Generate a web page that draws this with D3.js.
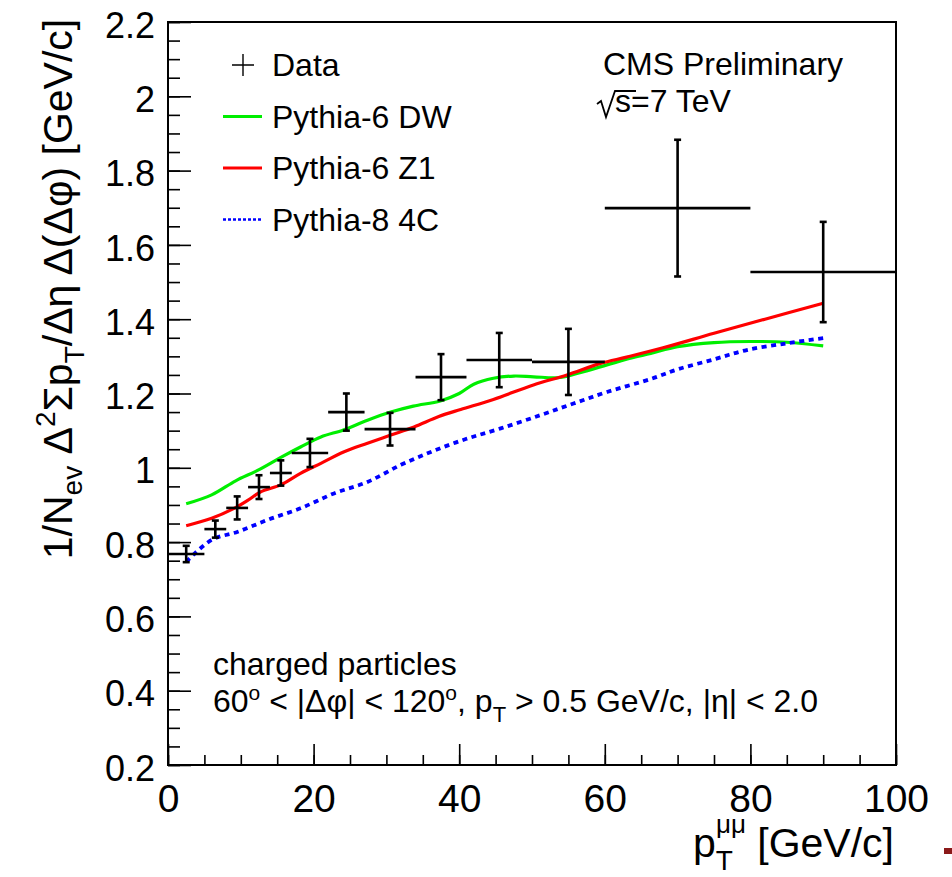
<!DOCTYPE html>
<html>
<head>
<meta charset="utf-8">
<script src="https://cdn.jsdelivr.net/npm/d3@7"></script>
<style>
  body { margin: 0; background: #fff; }
  svg { display: block; font-family: "Liberation Sans", Arial, Helvetica, sans-serif; }
</style>
</head>
<body>
<div id="container"></div>
<script>
/* CONSTANTS AND GLOBALS */
const width = 952;
const height = 877;
const margin = { top: 22, bottom: 112, left: 168, right: 56 };

/* DATA */
// data bins (pT of the dimuon pair) with measured value and stat error
const binLow  = [0, 5, 8, 11, 14, 17, 22, 27, 34, 41, 50, 60, 80];
const binHigh = [5, 8, 11, 14, 17, 22, 27, 34, 41, 50, 60, 80, 100];
const dataY   = [0.768, 0.835, 0.892, 0.948, 0.986, 1.040, 1.150, 1.104, 1.244, 1.290, 1.285, 1.699, 1.527];
const dataErr = [0.022, 0.023, 0.031, 0.032, 0.034, 0.038, 0.050, 0.044, 0.062, 0.073, 0.089, 0.184, 0.135];

// Pythia-6 DW
const dwX = [2.5, 6, 9.3, 12.3, 15.5, 18.2, 21, 24.1, 27.4, 30.6, 33.7, 37.4, 40, 42, 44.7, 47.5, 50.2, 53.9, 57.1, 60.3, 63.5, 66.3, 70, 75, 80, 85, 90];
const dwY = [0.903, 0.927, 0.965, 0.993, 1.028, 1.056, 1.083, 1.102, 1.128, 1.150, 1.166, 1.180, 1.200, 1.225, 1.241, 1.247, 1.245, 1.243, 1.259, 1.277, 1.295, 1.308, 1.326, 1.337, 1.340, 1.338, 1.328];

// Pythia-6 Z1
const z1X = [2.5, 6, 9, 11, 12.8, 15.5, 18.2, 21, 24.2, 27.4, 30.6, 33.8, 37.2, 40.2, 44.7, 50.2, 54.8, 59.4, 63, 68, 75, 82, 90];
const z1Y = [0.844, 0.864, 0.890, 0.913, 0.936, 0.954, 0.985, 1.012, 1.043, 1.066, 1.088, 1.110, 1.138, 1.157, 1.184, 1.223, 1.250, 1.281, 1.298, 1.323, 1.362, 1.400, 1.443];

// Pythia-8 4C
const c4X = [2.5, 6, 9.6, 13.7, 18.2, 22.8, 27.4, 32, 36.4, 41, 45.7, 51.2, 55.7, 60.3, 66.3, 70, 75, 79.5, 85, 90];
const c4Y = [0.747, 0.806, 0.828, 0.860, 0.891, 0.931, 0.962, 1.008, 1.045, 1.078, 1.106, 1.142, 1.173, 1.204, 1.239, 1.265, 1.292, 1.317, 1.335, 1.349];

const seriesNames = ["Pythia-6 DW", "Pythia-6 Z1", "Pythia-8 4C"];
const seriesColors = ["#00ee00", "#ff0000", "#0000ff"];

const xTicks = [0, 20, 40, 60, 80, 100];
const xTickLabels = ["0", "20", "40", "60", "80", "100"];
const yTicks = [0.2, 0.4, 0.6, 0.8, 1.0, 1.2, 1.4, 1.6, 1.8, 2.0, 2.2];
const yTickLabels = ["0.2", "0.4", "0.6", "0.8", "1", "1.2", "1.4", "1.6", "1.8", "2", "2.2"];

/* SCALES */
const xScale = d3.scaleLinear()
  .domain([0, 100])
  .range([margin.left, width - margin.right]);

const yScale = d3.scaleLinear()
  .domain([0.2, 2.2])
  .range([height - margin.bottom, margin.top]);

const svg = d3.select("#container")
  .append("svg")
  .attr("width", width)
  .attr("height", height);

svg.append("rect").attr("width", width).attr("height", height).attr("fill", "#fff");

/* AXES */
const yBase = height - margin.bottom;

// minor ticks first, then the labelled major ticks
svg.append("g")
  .attr("class", "xMinor")
  .attr("transform", `translate(0,${yBase})`)
  .call(d3.axisBottom(xScale).tickValues(d3.range(0, 100.01, 5)).tickSize(-10).tickFormat(""));

svg.append("g")
  .attr("class", "xAxis")
  .attr("transform", `translate(0,${yBase})`)
  .call(d3.axisBottom(xScale).tickValues(xTicks).tickSize(-21).tickPadding(19)
    .tickFormat((d, i) => xTickLabels[i]));

svg.append("g")
  .attr("class", "yMinor")
  .attr("transform", `translate(${margin.left},0)`)
  .call(d3.axisLeft(yScale).tickValues(d3.range(0.2, 2.2001, 0.05)).tickSize(-12).tickFormat(""));

svg.append("g")
  .attr("class", "yAxis")
  .attr("transform", `translate(${margin.left},0)`)
  .call(d3.axisLeft(yScale).tickValues(yTicks).tickSize(-23).tickPadding(13)
    .tickFormat((d, i) => yTickLabels[i]));

svg.selectAll(".domain").remove();
svg.selectAll(".tick line").attr("stroke", "#000").attr("stroke-width", 1.6);
svg.selectAll(".xAxis text")
  .attr("font-size", 39).attr("fill", "#000").attr("font-family", null);
svg.selectAll(".yAxis text")
  .attr("font-size", 36).attr("fill", "#000").attr("dy", "0.42em").attr("font-family", null);

// frame
svg.append("rect")
  .attr("x", margin.left)
  .attr("y", margin.top)
  .attr("width", xScale(100) - xScale(0))
  .attr("height", yScale(0.2) - yScale(2.2))
  .attr("fill", "none")
  .attr("stroke", "#000")
  .attr("stroke-width", 2);

/* MODEL CURVES */
const curves = [
  { x: dwX, y: dwY },
  { x: z1X, y: z1Y },
  { x: c4X, y: c4Y }
];

const line = d3.line()
  .x(d => xScale(d[0]))
  .y(d => yScale(d[1]))
  .curve(d3.curveCatmullRom.alpha(0.5));

curves.forEach((c, i) => {
  svg.append("path")
    .datum(c.x.map((x, j) => [x, c.y[j]]))
    .attr("d", line)
    .attr("fill", "none")
    .attr("stroke", seriesColors[i])
    .attr("stroke-width", i === 2 ? 3.8 : 3.2)
    .attr("stroke-dasharray", i === 2 ? "5,4.5" : null);
});

/* DATA POINTS */
const pts = svg.append("g")
  .attr("stroke", "#000")
  .attr("stroke-width", 2.6)
  .selectAll("g")
  .data(dataY.map((y, i) => ({ lo: binLow[i], hi: binHigh[i], y: y, e: dataErr[i] })))
  .join("g");

pts.append("line")
  .attr("x1", d => xScale(d.lo))
  .attr("x2", d => xScale(d.hi))
  .attr("y1", d => yScale(d.y))
  .attr("y2", d => yScale(d.y));

pts.append("line")
  .attr("x1", d => xScale((d.lo + d.hi) / 2))
  .attr("x2", d => xScale((d.lo + d.hi) / 2))
  .attr("y1", d => yScale(d.y - d.e))
  .attr("y2", d => yScale(d.y + d.e));

// little caps at the error bar ends
[-1, 1].forEach(s => {
  pts.append("line")
    .attr("x1", d => xScale((d.lo + d.hi) / 2) - 3.5)
    .attr("x2", d => xScale((d.lo + d.hi) / 2) + 3.5)
    .attr("y1", d => yScale(d.y + s * d.e))
    .attr("y2", d => yScale(d.y + s * d.e));
});

/* LEGEND */
const legend = svg.append("g").attr("font-size", 32);
const legX = 223, legRow0 = 65, legStep = 51.5;

legend.append("path")
  .attr("d", `M${legX + 9},${legRow0}h22M${legX + 20},${legRow0 - 11}v22`)
  .attr("stroke", "#000").attr("stroke-width", 1.4);

seriesNames.forEach((n, i) => {
  const cy = legRow0 + (i + 1) * legStep;
  legend.append("line")
    .attr("x1", legX).attr("x2", legX + 39)
    .attr("y1", cy).attr("y2", cy)
    .attr("stroke", seriesColors[i])
    .attr("stroke-width", i === 2 ? 2.4 : 3)
    .attr("stroke-dasharray", i === 2 ? "3,2" : null);
});

["Data"].concat(seriesNames).forEach((n, i) => {
  legend.append("text")
    .attr("x", 272)
    .attr("y", legRow0 + i * legStep + 11)
    .text(n);
});

/* LABELS */
svg.append("text")
  .attr("x", 603).attr("y", 75)
  .attr("font-size", 32)
  .text("CMS Preliminary");

svg.append("path")
  .attr("d", "M597,104L601,101L606,117L615,91H636")
  .attr("fill", "none").attr("stroke", "#000").attr("stroke-width", 1.8);

svg.append("text")
  .attr("x", 615).attr("y", 112)
  .attr("font-size", 32)
  .text("s=7 TeV");

const note = svg.append("g").attr("font-size", 32);
note.append("text").attr("x", 213).attr("y", 675).text("charged particles");

const cuts = note.append("text").attr("x", 213).attr("y", 712);
cuts.append("tspan").text("60");
cuts.append("tspan").attr("dy", -12).attr("font-size", 21).text("o");
cuts.append("tspan").attr("dy", 12).text(" < |Δφ| < 120");
cuts.append("tspan").attr("dy", -12).attr("font-size", 21).text("o");
cuts.append("tspan").attr("dy", 12).text(", p");
cuts.append("tspan").attr("dy", 10).attr("font-size", 22).text("T");
cuts.append("tspan").attr("dy", -10).text(" > 0.5 GeV/c, |η| < 2.0");

// x title
const xt = svg.append("text")
  .attr("x", 894).attr("y", 857)
  .attr("font-size", 41)
  .attr("text-anchor", "end");
xt.append("tspan").text("p");
xt.append("tspan").attr("dy", 13).attr("font-size", 28).text("T");
xt.append("tspan").attr("dx", -17).attr("dy", -37).attr("font-size", 26).text("μμ");
xt.append("tspan").attr("dy", 24).text(" [GeV/c]");

// y title
const yt = svg.append("text")
  .attr("transform", "translate(72,289) rotate(-90)")
  .attr("font-size", 41)
  .attr("text-anchor", "middle");
yt.append("tspan").text("1/N");
yt.append("tspan").attr("dy", 10).attr("font-size", 28).text("ev");
yt.append("tspan").attr("dy", -10).text(" Δ");
yt.append("tspan").attr("dy", -17).attr("font-size", 28).text("2");
yt.append("tspan").attr("dy", 17).text("Σp");
yt.append("tspan").attr("dy", 12).attr("font-size", 28).text("T");
yt.append("tspan").attr("dy", -12).text("/Δη Δ(Δφ) [GeV/c]");

// small dark red mark at the lower right edge
svg.append("rect")
  .attr("x", 944).attr("y", 848).attr("width", 8).attr("height", 6)
  .attr("fill", "#8b1a1a");
</script>
</body>
</html>
